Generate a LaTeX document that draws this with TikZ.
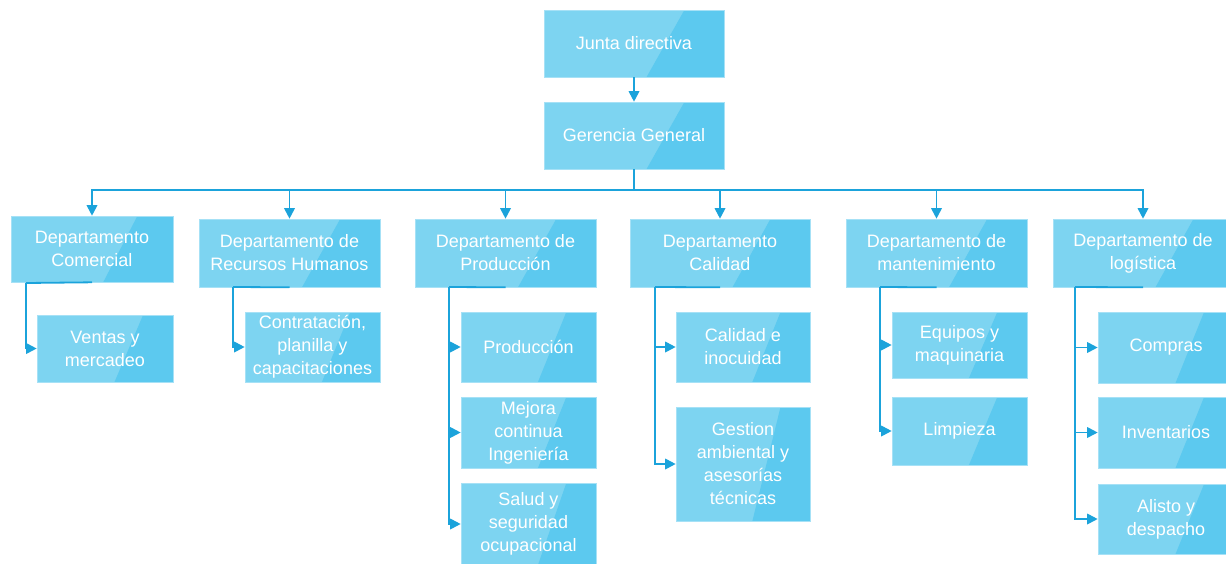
\documentclass[tikz,border=0pt]{standalone}
\usepackage{fontspec}
\setmainfont{Liberation Sans}
\usetikzlibrary{arrows.meta,calc}

\definecolor{boxlight}{HTML}{7DD4F1}
\definecolor{boxdark}{HTML}{5CC9EF}
\definecolor{boxedge}{HTML}{A6E1F6}
\definecolor{linkblue}{HTML}{1BA3DB}

\tikzset{
  orgbox/.style 2 args={rectangle, minimum width=#1, minimum height=#2,
    fill=boxlight, draw=boxedge, line width=0.6pt, text=white,
    align=center, inner sep=0pt, font=\fontsize{18}{23}\selectfont,
    path picture={\fill[boxdark]
      ($(path picture bounding box.north west)!0.78!(path picture bounding box.north east)$)
      -- (path picture bounding box.north east)
      -- (path picture bounding box.south east)
      -- ($(path picture bounding box.south west)!0.57!(path picture bounding box.south east)$)
      -- cycle;}},
  link/.style={draw=linkblue, line width=1.8pt},
  tip/.style={-{Triangle[length=10.5pt,width=10.5pt]}}
}

\begin{document}
\begin{tikzpicture}[x=1pt,y=-1pt]
\useasboundingbox (0,0) rectangle (1226,563);
\clip (0,0) rectangle (1226,563);

% top of the chart
\node[orgbox={180}{67}] (jd) at (634,43.5) {Junta directiva};
\node[orgbox={180}{67}] (gg) at (634,135.5) {Gerencia General};

% departments
\node[orgbox={162}{66}] (dc) at (92,249) {Departamento\\Comercial};
\node[orgbox={181}{68}] (drh) at (289.5,253) {Departamento de\\Recursos Humanos};
\node[orgbox={181}{68}] (dp) at (505.5,253) {Departamento de\\Producción};
\node[orgbox={180}{68}] (dq) at (720,253) {Departamento\\Calidad};
\node[orgbox={181}{68}] (dm) at (936.5,253) {Departamento de\\mantenimiento};
\node[orgbox={180}{68}] (dl) at (1143,253) {Departamento de\\logística};

% sections
\node[orgbox={136}{67}] (vm) at (105,348.5) {Ventas y\\mercadeo};
\node[orgbox={135}{70}] (cpc) at (312.5,347) {Contratación,\\planilla y\\capacitaciones};
\node[orgbox={135}{70}] (pp) at (528.5,347) {Producción};
\node[orgbox={135}{71}] (pm) at (528.5,432.5) {Mejora\\continua\\Ingeniería};
\node[orgbox={135}{82}] (ps) at (528.5,524) {Salud y\\seguridad\\ocupacional};
\node[orgbox={134}{70}] (qc) at (743,347) {Calidad e\\inocuidad};
\node[orgbox={134}{114}] (qg) at (743,464) {Gestion\\ambiental y\\asesorías\\técnicas};
\node[orgbox={135}{66}] (me) at (959.5,345) {Equipos y\\maquinaria};
\node[orgbox={135}{68}] (ml) at (959.5,431) {Limpieza};
\node[orgbox={136}{71}] (lc) at (1166,347.5) {Compras};
\node[orgbox={136}{71}] (li) at (1166,432.5) {Inventarios};
\node[orgbox={136}{70}] (la) at (1166,519) {Alisto y\\despacho};

% board to general management
\draw[link,tip] (jd) -- (gg);

% bus to the departments
\coordinate (bus) at (634,190);
\foreach \d in {dc,drh,dp,dq,dm,dl}
  \draw[link,tip] (gg.south) -- (bus) -| (\d.north);

% department spines
\coordinate (dc-v) at (26,283);
\coordinate (drh-v) at (233,287);
\coordinate (dp-v) at (449,287);
\coordinate (dq-v) at (655,287);
\coordinate (dm-v) at (880,287);
\coordinate (dl-v) at (1075,287);

\foreach \d in {dc,drh,dp,dq,dm,dl}
  \draw[link] (\d.south) -- (\d-v);

\foreach \d/\s in {dc/vm, drh/cpc, dp/pp, dp/pm, dp/ps, dq/qc, dq/qg,
                   dm/me, dm/ml, dl/lc, dl/li, dl/la}
  \draw[link,tip] (\d-v) |- (\s.west);
\end{tikzpicture}
\end{document}
